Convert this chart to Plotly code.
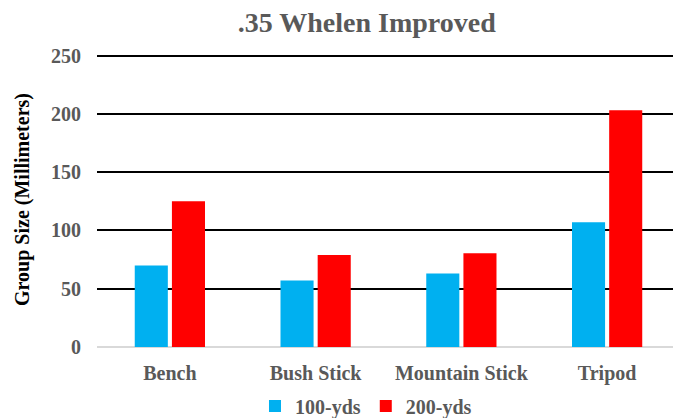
import plotly.graph_objects as go

categories = ["Bench", "Bush Stick", "Mountain Stick", "Tripod"]
yds100 = [70, 57, 63, 107]
yds200 = [125, 79, 80.5, 203]
y_ticks = [0, 50, 100, 150, 200, 250]

FONT = "Liberation Serif, Times New Roman, DejaVu Serif, serif"
GRAY = "#595959"

fig = go.Figure()
fig.add_trace(go.Bar(x=categories, y=yds100, name="100-yds",
                     marker=dict(color="#00B0F0", line=dict(width=0))))
fig.add_trace(go.Bar(x=categories, y=yds200, name="200-yds",
                     marker=dict(color="#FF0000", line=dict(width=0))))

fig.update_layout(
    width=673, height=418,
    margin=dict(l=97, r=0, t=52, b=71, autoexpand=False),
    paper_bgcolor="white", plot_bgcolor="white",
    barmode="group", bargap=0.49, bargroupgap=0.11,
    title=dict(text=".35 Whelen Improved", x=0.545, xanchor="center",
               y=0.947, yanchor="middle",
               font=dict(family=FONT, size=28, color=GRAY, weight="bold")),
    font=dict(family=FONT, color=GRAY),
    showlegend=True,
    legend=dict(orientation="h", x=0.467, xanchor="center", y=-0.2, yanchor="middle",
                font=dict(family=FONT, size=20, color=GRAY, weight="bold"),
                itemwidth=30, bgcolor="rgba(0,0,0,0)"),
    xaxis=dict(range=[-0.5, 3.452], showgrid=False, zeroline=False, showline=False,
               ticks="", ticklabelstandoff=12, automargin=False,
               tickfont=dict(family=FONT, size=20, color=GRAY, weight="bold")),
    yaxis=dict(range=[0, 253], tickvals=y_ticks, showgrid=True, gridcolor="#000000",
               gridwidth=2, zeroline=True, zerolinecolor="#D9D9D9", zerolinewidth=2,
               showline=False, ticks="", ticklabelstandoff=15, automargin=False,
               tickfont=dict(family=FONT, size=20, color=GRAY, weight="bold"),
               title=dict(text="Group Size (Millimeters)", standoff=16,
                          font=dict(family=FONT, size=20, color="#000000", weight="bold"))),
)

fig.write_html("out.html", config={"displayModeBar": False},
               post_script="document.body.style.margin='0';document.body.style.overflow='hidden';")
